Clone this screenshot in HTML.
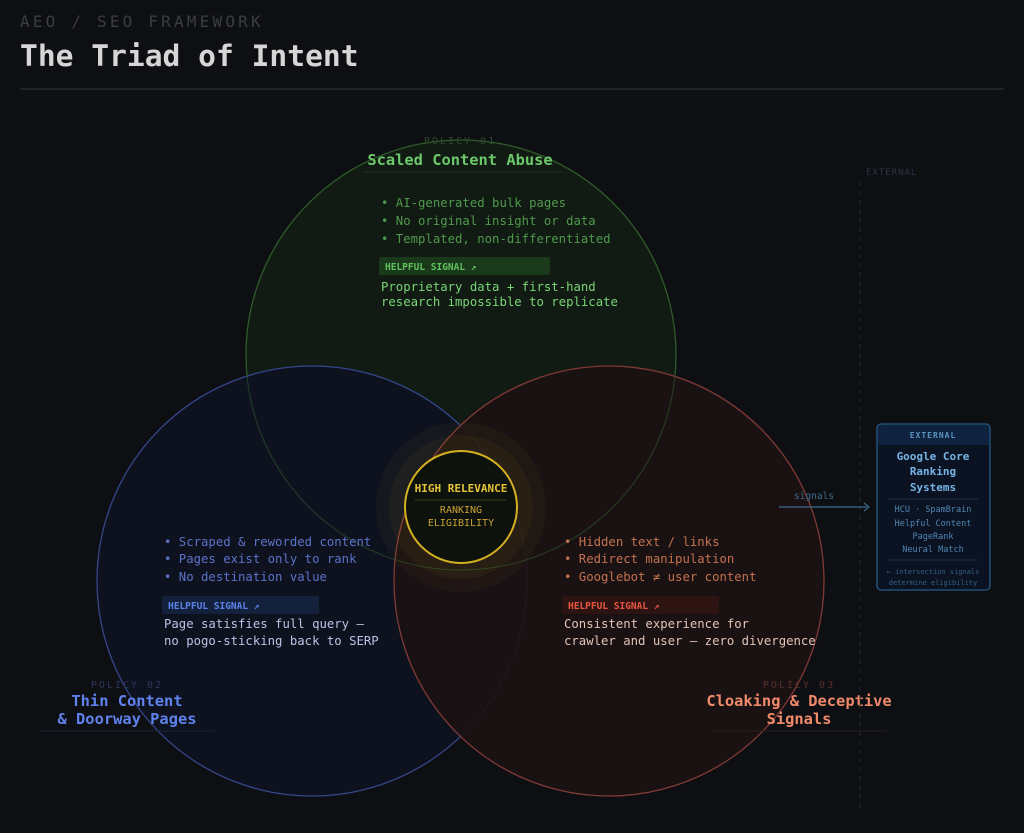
<!DOCTYPE html>
<html><head><meta charset="utf-8"><style>
html,body{margin:0;padding:0;background:#0e0f13;}
svg{display:block;font-family:"DejaVu Sans Mono","Liberation Mono",monospace;}
</style></head><body>
<svg width="1024" height="833" viewBox="0 0 1024 833" xmlns="http://www.w3.org/2000/svg">
<rect width="1024" height="833" fill="#0e0f13"/>
<text x="20" y="27" font-size="16" fill="#3b3d42" letter-spacing="3.2">AEO / SEO FRAMEWORK</text>
<text x="20" y="66" font-size="29.6" font-weight="bold" fill="#d6d6d6">The Triad of Intent</text>
<line x1="20" y1="89" x2="1004" y2="89" stroke="#2a2c31" stroke-width="1.5"/>

<circle cx="461" cy="355" r="215" fill="#111a13" stroke="#2e5a2a" stroke-width="1.3"/>
<circle cx="312" cy="581" r="215" fill="#0e1220" fill-opacity="0.93" stroke="#34468a" stroke-width="1.3"/>
<circle cx="609" cy="581" r="215" fill="#1c1213" fill-opacity="0.9" stroke="#803a36" stroke-width="1.3"/>
<circle cx="461" cy="355" r="215" fill="none" stroke="#2e5a2a" stroke-width="1" stroke-opacity="0.6"/>

<circle cx="461" cy="507" r="85" fill="#d4b021" fill-opacity="0.04"/>
<circle cx="461" cy="507" r="72" fill="#d4b021" fill-opacity="0.05"/>
<circle cx="461" cy="507" r="56" fill="#0d130c" stroke="#d4b021" stroke-width="2"/>
<text x="461" y="492" font-size="11" font-weight="bold" fill="#e6c43a" text-anchor="middle">HIGH RELEVANCE</text>
<line x1="415" y1="500" x2="507" y2="500" stroke="#3a3a1e" stroke-width="1"/>
<text x="461" y="513" font-size="10" fill="#c9a233" text-anchor="middle">RANKING</text>
<text x="461" y="526" font-size="10" fill="#c9a233" text-anchor="middle">ELIGIBILITY</text>

<text x="460" y="144" font-size="10" fill="#2f4a2e" letter-spacing="2" text-anchor="middle">POLICY 01</text>
<text x="460" y="165" font-size="15.4" font-weight="bold" fill="#6cc86a" text-anchor="middle">Scaled Content Abuse</text>
<line x1="362" y1="172" x2="562" y2="172" stroke="#1f3320" stroke-width="1"/>
<g font-size="12.3" fill="#4f9a4c">
<text x="381" y="207">• AI-generated bulk pages</text>
<text x="381" y="225">• No original insight or data</text>
<text x="381" y="243">• Templated, non-differentiated</text>
</g>
<rect x="379" y="257" width="171" height="18" rx="2" fill="#1b3a1c"/>
<text x="385" y="270" font-size="9.5" font-weight="bold" fill="#5fc25c">HELPFUL SIGNAL ↗</text>
<text x="381" y="291" font-size="12.3" fill="#7ad677">Proprietary data + first-hand</text>
<text x="381" y="306" font-size="12.3" fill="#7ad677">research impossible to replicate</text>

<g font-size="12.3" fill="#5b72c9">
<text x="164" y="546">• Scraped &amp; reworded content</text>
<text x="164" y="563">• Pages exist only to rank</text>
<text x="164" y="581">• No destination value</text>
</g>
<rect x="162" y="596" width="157" height="18" rx="2" fill="#14213d"/>
<text x="168" y="609" font-size="9.5" font-weight="bold" fill="#5b82e8">HELPFUL SIGNAL ↗</text>
<text x="164" y="628" font-size="12.3" fill="#b9c3e6">Page satisfies full query —</text>
<text x="164" y="645" font-size="12.3" fill="#b9c3e6">no pogo-sticking back to SERP</text>
<text x="127" y="688" font-size="10" fill="#2d3760" letter-spacing="2" text-anchor="middle">POLICY 02</text>
<text x="127" y="706" font-size="15.4" font-weight="bold" fill="#5f82ec" text-anchor="middle">Thin Content</text>
<text x="127" y="724" font-size="15.4" font-weight="bold" fill="#5f82ec" text-anchor="middle">&amp; Doorway Pages</text>
<line x1="40" y1="731" x2="215" y2="731" stroke="#1c2236" stroke-width="1"/>

<g font-size="12.3" fill="#c4714f">
<text x="564" y="546">• Hidden text / links</text>
<text x="564" y="563">• Redirect manipulation</text>
<text x="564" y="581">• Googlebot ≠ user content</text>
</g>
<rect x="562" y="596" width="157" height="18" rx="2" fill="#2e1313"/>
<text x="568" y="609" font-size="9.5" font-weight="bold" fill="#e8553f">HELPFUL SIGNAL ↗</text>
<text x="564" y="628" font-size="12.3" fill="#e2c5b8">Consistent experience for</text>
<text x="564" y="645" font-size="12.3" fill="#e2c5b8">crawler and user — zero divergence</text>
<text x="799" y="688" font-size="10" fill="#5a2e2a" letter-spacing="2" text-anchor="middle">POLICY 03</text>
<text x="799" y="706" font-size="15.4" font-weight="bold" fill="#f08a6a" text-anchor="middle">Cloaking &amp; Deceptive</text>
<text x="799" y="724" font-size="15.4" font-weight="bold" fill="#f08a6a" text-anchor="middle">Signals</text>
<line x1="712" y1="731" x2="887" y2="731" stroke="#2a1c1c" stroke-width="1"/>

<line x1="860" y1="182" x2="860" y2="812" stroke="#22262e" stroke-width="1" stroke-dasharray="5,4"/>
<text x="866" y="175" font-size="9" fill="#2a3445" letter-spacing="1">EXTERNAL</text>
<text x="814" y="499" font-size="9.5" fill="#3c6a8a" text-anchor="middle">signals</text>
<line x1="779" y1="507" x2="867" y2="507" stroke="#3c6a8a" stroke-width="1.2"/>
<path d="M864,503 L869,507 L864,511" fill="none" stroke="#3c6a8a" stroke-width="1.2"/>

<rect x="877" y="424" width="113" height="166" rx="4" fill="#0b1322" stroke="#255b87" stroke-width="1.3"/>
<path d="M878,445 L878,428 Q878,425 881,425 L986,425 Q989,425 989,428 L989,445 Z" fill="#0f2340"/>
<text x="933" y="438" font-size="8" font-weight="bold" fill="#5a93bf" letter-spacing="1" text-anchor="middle">EXTERNAL</text>
<g font-size="11" font-weight="bold" fill="#76b4e6" text-anchor="middle">
<text x="933" y="460">Google Core</text>
<text x="933" y="475">Ranking</text>
<text x="933" y="491">Systems</text>
</g>
<line x1="888" y1="499" x2="978" y2="499" stroke="#1b2f45" stroke-width="1"/>
<g font-size="8.5" fill="#4f86b3" text-anchor="middle">
<text x="933" y="512">HCU · SpamBrain</text>
<text x="933" y="526">Helpful Content</text>
<text x="933" y="539">PageRank</text>
<text x="933" y="552">Neural Match</text>
</g>
<line x1="888" y1="560" x2="978" y2="560" stroke="#1b2f45" stroke-width="1"/>
<g font-size="7" fill="#34607f" text-anchor="middle">
<text x="933" y="574">← intersection signals</text>
<text x="933" y="585">determine eligibility</text>
</g>
</svg>
</body></html>
